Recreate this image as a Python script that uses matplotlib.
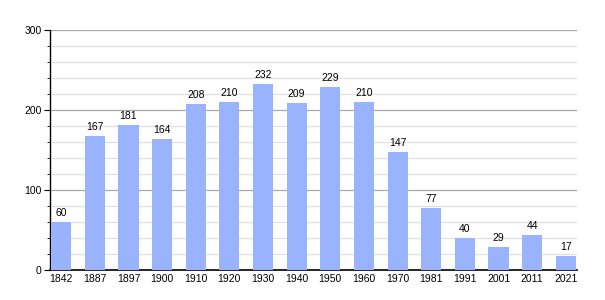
import matplotlib.pyplot as plt
from matplotlib.ticker import MultipleLocator

years = ["1842", "1887", "1897", "1900", "1910", "1920", "1930", "1940",
         "1950", "1960", "1970", "1981", "1991", "2001", "2011", "2021"]
population = [60, 167, 181, 164, 208, 210, 232, 209, 229, 210, 147, 77, 40, 29, 44, 17]

plt.rcParams['font.family'] = ['Liberation Sans', 'DejaVu Sans']

fig = plt.figure(figsize=(6.05, 3.0), dpi=100)
ax = fig.add_axes([50 / 605, 30 / 300, 527 / 605, 240 / 300])

x = range(len(years))
ax.bar(x, population, width=0.6, color="#99b3ff", zorder=3)
for xi, v in zip(x, population):
    ax.text(xi, v + 5, str(v), ha="center", va="bottom", fontsize=7.5, zorder=4)

ax.set_xlim(-0.33, len(years) - 1 + 0.33)
ax.set_ylim(0, 300)
ax.set_xticks(list(x))
ax.set_xticklabels(years)
ax.yaxis.set_major_locator(MultipleLocator(100))
ax.yaxis.set_minor_locator(MultipleLocator(20))
ax.grid(axis="y", which="major", color="#aaaaaa", linewidth=0.9, zorder=0)
ax.grid(axis="y", which="minor", color="#e0e0e0", linewidth=0.9, zorder=0)

for s in ["top", "right"]:
    ax.spines[s].set_visible(False)
ax.spines["left"].set_linewidth(1.0)
ax.spines["bottom"].set_linewidth(1.2)
ax.tick_params(axis="x", length=0, labelsize=7.5, pad=3)
ax.tick_params(axis="y", which="major", length=4, labelsize=7.5, pad=2)
ax.tick_params(axis="y", which="minor", length=2.5)

fig.savefig("out.png", dpi=100)
